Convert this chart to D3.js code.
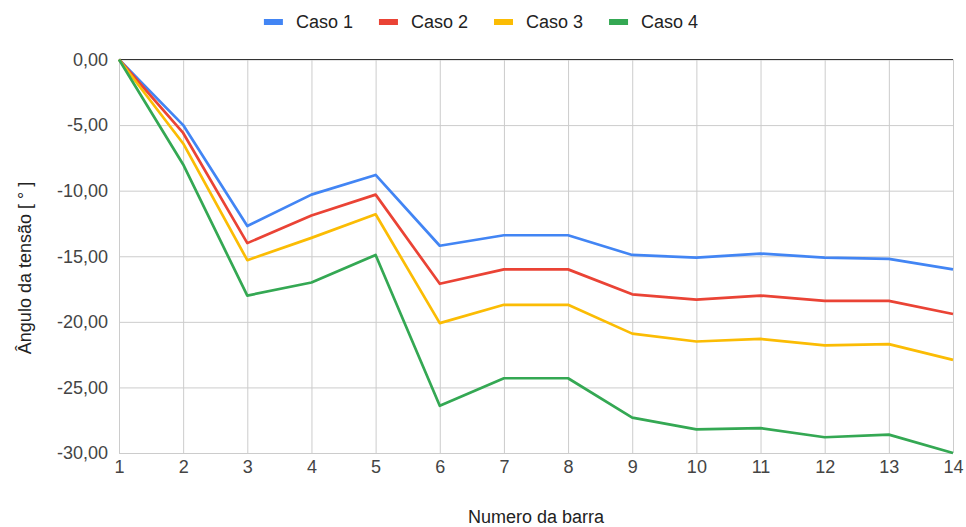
<!DOCTYPE html>
<html>
<head>
<meta charset="utf-8">
<script src="https://cdn.jsdelivr.net/npm/d3@7"></script>
<style>
  html, body { margin: 0; padding: 0; background: #fff; }
  svg { display: block; font-family: "Liberation Sans", Arial, sans-serif; }
</style>
</head>
<body>
<svg id="chart" width="966" height="527"></svg>
<script>
// Bus numbers (x axis)
const barras = [1, 2, 3, 4, 5, 6, 7, 8, 9, 10, 11, 12, 13, 14];

// Voltage angle per case, in degrees
const caso1 = [0, -5.0, -12.7, -10.3, -8.8, -14.2, -13.4, -13.4, -14.9, -15.1, -14.8, -15.1, -15.2, -16.0];
const caso2 = [0, -5.6, -14.0, -11.9, -10.3, -17.1, -16.0, -16.0, -17.9, -18.3, -18.0, -18.4, -18.4, -19.4];
const caso3 = [0, -6.4, -15.3, -13.6, -11.8, -20.1, -18.7, -18.7, -20.9, -21.5, -21.3, -21.8, -21.7, -22.9];
const caso4 = [0, -8.0, -18.0, -17.0, -14.9, -26.4, -24.3, -24.3, -27.3, -28.2, -28.1, -28.8, -28.6, -30.0];

const seriesNames = ["Caso 1", "Caso 2", "Caso 3", "Caso 4"];
const seriesColors = ["#4285F4", "#EA4335", "#FBBC04", "#34A853"];
const yTicks = [0, -5, -10, -15, -20, -25, -30];

const series = [caso1, caso2, caso3, caso4].map((vals, i) => ({
  name: seriesNames[i],
  color: seriesColors[i],
  points: barras.map((b, j) => ({ x: b, y: vals[j] }))
}));

const svg = d3.select("#chart");
const plot = { left: 119, right: 953, top: 59.5, bottom: 453 };

const x = d3.scaleLinear().domain([1, 14]).range([plot.left, plot.right]);
const y = d3.scaleLinear().domain([0, -30]).range([plot.top, plot.bottom]);

const fmt = v => d3.format(".2f")(v).replace(".", ",").replace("−", "-");

// Horizontal gridlines + y tick labels
const yAxis = d3.axisLeft(y).tickValues(yTicks).tickSize(-(plot.right - plot.left))
  .tickPadding(11).tickFormat(fmt);
const gy = svg.append("g").attr("transform", `translate(${plot.left},0)`).call(yAxis);
gy.select(".domain").remove();
gy.selectAll(".tick line").attr("stroke", "#cccccc").attr("stroke-width", 1);
gy.selectAll(".tick text").attr("fill", "#444").style("font-size", "18px")
  .style("font-family", "'Liberation Sans', Arial, sans-serif");

// Vertical gridlines + x tick labels
const xAxis = d3.axisBottom(x).tickValues(barras).tickSize(-(plot.bottom - plot.top))
  .tickPadding(7).tickFormat(d3.format("d"));
const gx = svg.append("g").attr("transform", `translate(0,${plot.bottom})`).call(xAxis);
gx.select(".domain").remove();
gx.selectAll(".tick line").attr("stroke", "#cccccc").attr("stroke-width", 1);
gx.selectAll(".tick text").attr("fill", "#444").style("font-size", "18px")
  .style("font-family", "'Liberation Sans', Arial, sans-serif");

// Baseline at zero
svg.append("line")
  .attr("x1", plot.left).attr("x2", plot.right)
  .attr("y1", y(0)).attr("y2", y(0))
  .attr("stroke", "#333").attr("stroke-width", 1.2);

// Series lines
const line = d3.line().x(d => x(d.x)).y(d => y(d.y));
svg.append("g").selectAll("path").data(series).join("path")
  .attr("d", d => line(d.points))
  .attr("fill", "none")
  .attr("stroke", d => d.color)
  .attr("stroke-width", 2.7)
  .attr("stroke-linejoin", "round");

// Axis titles
svg.append("text")
  .attr("x", 536).attr("y", 523)
  .attr("text-anchor", "middle")
  .attr("fill", "#222").style("font-size", "18px")
  .text("Numero da barra");

svg.append("text")
  .attr("transform", "translate(31,268) rotate(-90)")
  .attr("text-anchor", "middle")
  .attr("fill", "#222").style("font-size", "18px")
  .text("Ângulo da tensão [ ° ]");

// Legend
const legend = svg.append("g");
const items = legend.selectAll("g").data(series).join("g");
items.append("rect")
  .attr("width", 19).attr("height", 6).attr("y", 19)
  .attr("fill", d => d.color);
items.append("text")
  .attr("x", 32).attr("y", 28)
  .attr("fill", "#222").style("font-size", "18px")
  .text(d => d.name);
let cursor = 0;
items.each(function () {
  const g = d3.select(this);
  const w = g.select("text").node().getComputedTextLength();
  g.attr("transform", `translate(${cursor},0)`);
  cursor += 32 + w + 26;
});
const totalW = cursor - 26;
legend.attr("transform", `translate(${481 - totalW / 2},0)`);
</script>
</body>
</html>
